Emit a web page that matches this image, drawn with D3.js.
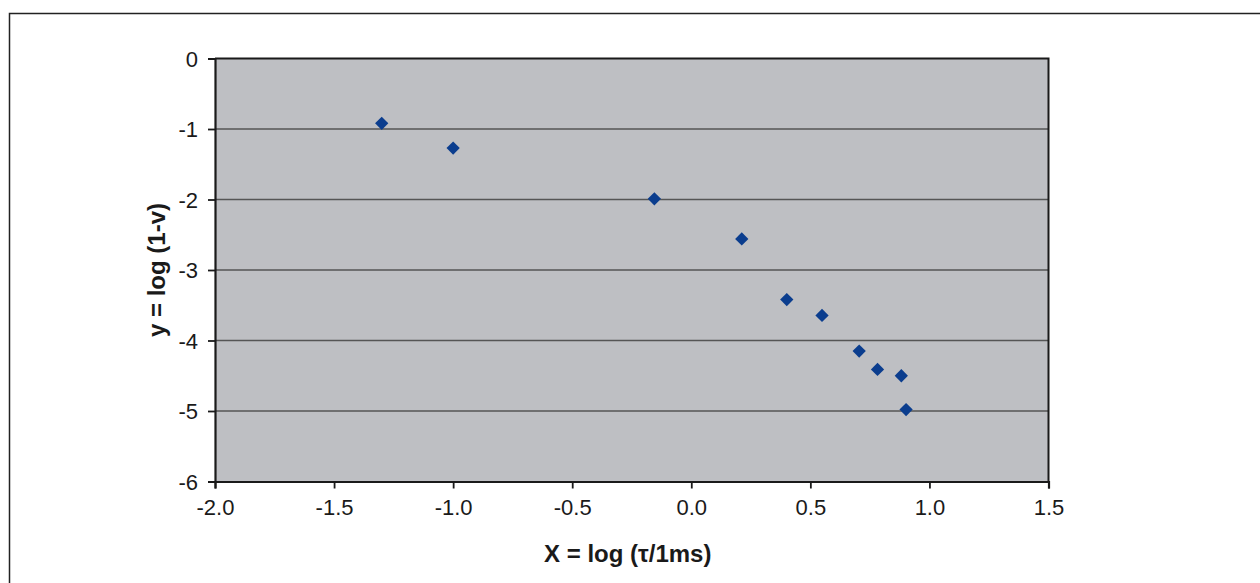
<!DOCTYPE html>
<html>
<head>
<meta charset="utf-8">
<script src="https://cdn.jsdelivr.net/npm/d3@7"></script>
<style>
  html, body { margin: 0; padding: 0; background: #fff; }
  svg { display: block; }
  text { font-family: "Liberation Sans", Arial, sans-serif; fill: #1a1a1a; }
</style>
</head>
<body>
<svg id="chart" width="1260" height="583"></svg>
<script>
// Measured points: x = log(tau / 1 ms), y = log(1 - v)
const xValues = [-1.30, -1.00, -0.155, 0.212, 0.401, 0.549, 0.705, 0.782, 0.882, 0.902];
const yValues = [-0.92, -1.27, -1.99, -2.56, -3.42, -3.645, -4.15, -4.41, -4.50, -4.98];

const xTicks = [-2.0, -1.5, -1.0, -0.5, 0.0, 0.5, 1.0, 1.5];
const yTicks = [0, -1, -2, -3, -4, -5, -6];

const xTitle = "X = log (\u03C4/1ms)";
const yTitle = "y = log (1-v)";

// tick labels use a plain hyphen for negatives
const hyphen = f => d => f(d).replace("\u2212", "-");

const svg = d3.select("#chart");

// outer chart frame (extends past the right/bottom edge of the page)
svg.append("rect")
  .attr("x", 9.5).attr("y", 13.5)
  .attr("width", 1300).attr("height", 700)
  .attr("fill", "#fff")
  .attr("stroke", "#222").attr("stroke-width", 1.5);

const plot = { left: 215, right: 1048.5, top: 58.5, bottom: 481.5 };

const x = d3.scaleLinear().domain([-2, 1.5]).range([plot.left, plot.right]);
const y = d3.scaleLinear().domain([-6, 0]).range([plot.bottom, plot.top]);

// plot area background
svg.append("rect")
  .attr("x", plot.left).attr("y", plot.top)
  .attr("width", plot.right - plot.left).attr("height", plot.bottom - plot.top)
  .attr("fill", "#BEBFC3");

// horizontal gridlines
svg.append("g")
  .selectAll("line")
  .data(yTicks.filter(t => t !== 0 && t !== -6))
  .join("line")
  .attr("x1", plot.left).attr("x2", plot.right)
  .attr("y1", d => y(d)).attr("y2", d => y(d))
  .attr("stroke", "#555").attr("stroke-width", 1.4);

// plot area border (top and right)
svg.append("path")
  .attr("d", `M${plot.left},${plot.top}H${plot.right}V${plot.bottom}`)
  .attr("fill", "none").attr("stroke", "#1a1a1a").attr("stroke-width", 2);

// axes
const xAxis = svg.append("g")
  .attr("transform", `translate(0,${plot.bottom})`)
  .call(d3.axisBottom(x).tickValues(xTicks).tickFormat(hyphen(d3.format(".1f")))
    .tickSizeOuter(0).tickSize(7).tickPadding(11));
const yAxis = svg.append("g")
  .attr("transform", `translate(${plot.left},0)`)
  .call(d3.axisLeft(y).tickValues(yTicks).tickFormat(hyphen(d3.format("d")))
    .tickSizeOuter(0).tickSize(7).tickPadding(10));

[xAxis, yAxis].forEach(g => {
  g.select(".domain").attr("stroke", "#1a1a1a").attr("stroke-width", 2.2);
  g.selectAll(".tick line").attr("stroke", "#1a1a1a").attr("stroke-width", 1.8);
  g.selectAll(".tick text")
    .attr("font-family", "'Liberation Sans', Arial, sans-serif")
    .attr("font-size", 22).attr("fill", "#1a1a1a");
});
yAxis.selectAll(".tick text").attr("dy", "0.36em");

// axis titles
svg.append("text")
  .attr("x", (plot.left + plot.right) / 2 - 4).attr("y", 562)
  .attr("text-anchor", "middle")
  .attr("font-size", 24).attr("font-weight", "bold")
  .text(xTitle);

svg.append("text")
  .attr("transform", `translate(165,${(plot.top + plot.bottom) / 2}) rotate(-90)`)
  .attr("text-anchor", "middle")
  .attr("font-size", 24).attr("font-weight", "bold")
  .text(yTitle);

// diamond markers
svg.append("g")
  .selectAll("path")
  .data(xValues.map((v, i) => [v, yValues[i]]))
  .join("path")
  .attr("transform", d => `translate(${x(d[0])},${y(d[1])}) rotate(45)`)
  .attr("d", d3.symbol().type(d3.symbolSquare).size(88))
  .attr("fill", "#0B3D8E");
</script>
</body>
</html>
